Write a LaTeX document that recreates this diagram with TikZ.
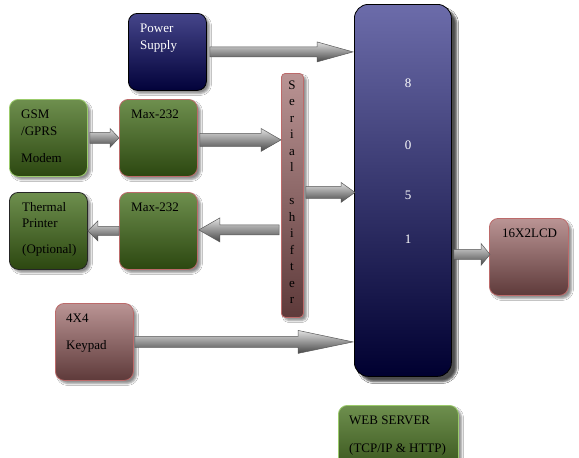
\documentclass[tikz,border=0pt]{standalone}
\usepackage{fontspec}
\setmainfont{Liberation Serif}
\usetikzlibrary{calc,shadows.blur}
\definecolor{navyT}{HTML}{45458A}
\definecolor{navyB}{HTML}{02023A}
\definecolor{mcuT}{HTML}{6C6CAA}
\definecolor{mcuB}{HTML}{000030}
\definecolor{grT}{HTML}{6E8F4E}
\definecolor{grB}{HTML}{2C4710}
\definecolor{grLine}{HTML}{9BCB6B}
\definecolor{rdLine}{HTML}{BC6A6A}
\definecolor{pkT}{HTML}{BA9494}
\definecolor{pkB}{HTML}{5E3A3A}
\tikzset{
  box/.style={rounded corners=9pt, inner sep=0pt, anchor=north west, line width=0.8pt,
    minimum width=78pt, minimum height=77pt,
    blur shadow={shadow xshift=3pt,shadow yshift=-3pt,shadow opacity=45,shadow blur radius=2pt}},
  navybox/.style={box, top color=navyT, bottom color=navyB, draw=black},
  greenbox/.style={box, top color=grT, bottom color=grB, draw=#1},
  pinkbox/.style={box, top color=pkT, bottom color=pkB, draw=rdLine},
  txt/.style={font=\fontsize{13}{15}\selectfont, inner sep=0pt, anchor=base west},
  wtxt/.style={txt, text=white},
  arrowsh/.style={top color=black!12, middle color=black!45, bottom color=black!72, draw=black!65, line width=0.5pt}
}
\newcommand\barrow[5]{%
  \shadedraw[arrowsh] let \p1=#1, \p2=#2, \n1={sign(\x2-\x1)} in
   (\x1,{\y1+#3}) -- ({\x2-\n1*#5},{\y1+#3}) -- ({\x2-\n1*#5},{\y1+#4}) -- (\x2,\y1)
   -- ({\x2-\n1*#5},{\y1-#4}) -- ({\x2-\n1*#5},{\y1-#3}) -- (\x1,{\y1-#3}) -- cycle;}
\begin{document}
\begin{tikzpicture}[x=1pt,y=-1pt]
\useasboundingbox (0,0) rectangle (579,458);
\fill[white] (0,0) rectangle (579,458);

% boxes
\node[navybox] (pwr) at (128,13) {};
\node[greenbox=grLine] (gsm) at (9,99) {};
\node[greenbox=rdLine] (maxa) at (119,99) {};
\node[greenbox=black!85] (therm) at (9,192) {};
\node[greenbox=rdLine] (maxb) at (119,192) {};
\node[pinkbox] (kp) at (55,303) {};
\node[pinkbox, minimum width=22pt, minimum height=244pt, rounded corners=4pt] (ser) at (281,73) {};
\node[box, top color=mcuT, bottom color=mcuB, draw=black, minimum width=97pt, minimum height=372pt, rounded corners=14pt,
  blur shadow={shadow xshift=5pt,shadow yshift=-5pt,shadow opacity=45,shadow blur radius=2pt}] (mcu) at (354,4) {};
\node[pinkbox, minimum width=79pt] (lcd) at (489,218) {};
\node[greenbox=grLine, minimum width=120pt, minimum height=80pt] (web) at (338,405) {};

% texts
\node[wtxt] (pwr1) at ($(pwr.north west)+(12,19)$) {Power};
\node[wtxt] (pwr2) at ($(pwr.north west)+(12,36)$) {Supply};
\node[txt] (gsm1) at ($(gsm.north west)+(12,19)$) {GSM};
\node[txt] (gsm2) at ($(gsm.north west)+(12,36)$) {/GPRS};
\node[txt] (gsm3) at ($(gsm.north west)+(12,63)$) {Modem};
\node[txt] (maxa1) at ($(maxa.north west)+(12,19)$) {Max-232};
\node[txt] (therm1) at ($(therm.north west)+(13,19)$) {Thermal};
\node[txt] (therm2) at ($(therm.north west)+(13,35)$) {Printer};
\node[txt] (therm3) at ($(therm.north west)+(13,61)$) {(Optional)};
\node[txt] (maxb1) at ($(maxb.north west)+(12,19)$) {Max-232};
\node[txt] (kp1) at ($(kp.north west)+(11,19)$) {4X4};
\node[txt] (kp2) at ($(kp.north west)+(11,46)$) {Keypad};
\node[txt] (lcd1) at ($(lcd.north west)+(13,19)$) {16X2LCD};
\node[txt] (web1) at ($(web.north west)+(11,19)$) {WEB SERVER};
\node[txt] (web2) at ($(web.north west)+(11,47)$) {(TCP/IP \& HTTP)};
\foreach \d/\yy [count=\i] in {8/87,0/149,5/199,1/243}
  \node[wtxt, anchor=base] (mcud\i) at (408,\yy) {\d};
\foreach \ch/\k [count=\i] in {S/0,e/1,r/2,i/3,a/4,l/5,s/7,h/8,i/9,f/10,t/11,e/12,r/13}
  \node[txt, anchor=base] (serl\i) at (292,{89+16.5*\k}) {\ch};

% block arrows
\barrow{($(pwr.east)+(3,0)$)}{($(mcu.west |- pwr.east)+(-1,0)$)}{5pt}{10pt}{36pt}
\barrow{($(gsm.east)+(2,0)$)}{(maxa.west |- gsm.east)}{5.5pt}{9.5pt}{9pt}
\barrow{($(maxa.east)+(2,2)$)}{($(ser.west |- maxa.east)+(0,2)$)}{6.5pt}{11.5pt}{20pt}
\barrow{($(ser.east)+(2,-3)$)}{($(mcu.west |- ser.east)+(1,-3)$)}{6pt}{10pt}{14pt}
\barrow{($(ser.west |- maxb.east)+(-2,-1)$)}{($(maxb.east)+(1,-1)$)}{5pt}{12pt}{21pt}
\barrow{(maxb.west)}{(therm.east)}{4.5pt}{10pt}{10pt}
\barrow{($(kp.east)+(1,0)$)}{($(mcu.west |- kp.east)+(-1,0)$)}{5.5pt}{11.5pt}{55pt}
\barrow{($(mcu.east |- lcd.west)+(2,-2.5)$)}{($(lcd.west)+(1,-2.5)$)}{5pt}{11pt}{9pt}
\end{tikzpicture}
\end{document}
